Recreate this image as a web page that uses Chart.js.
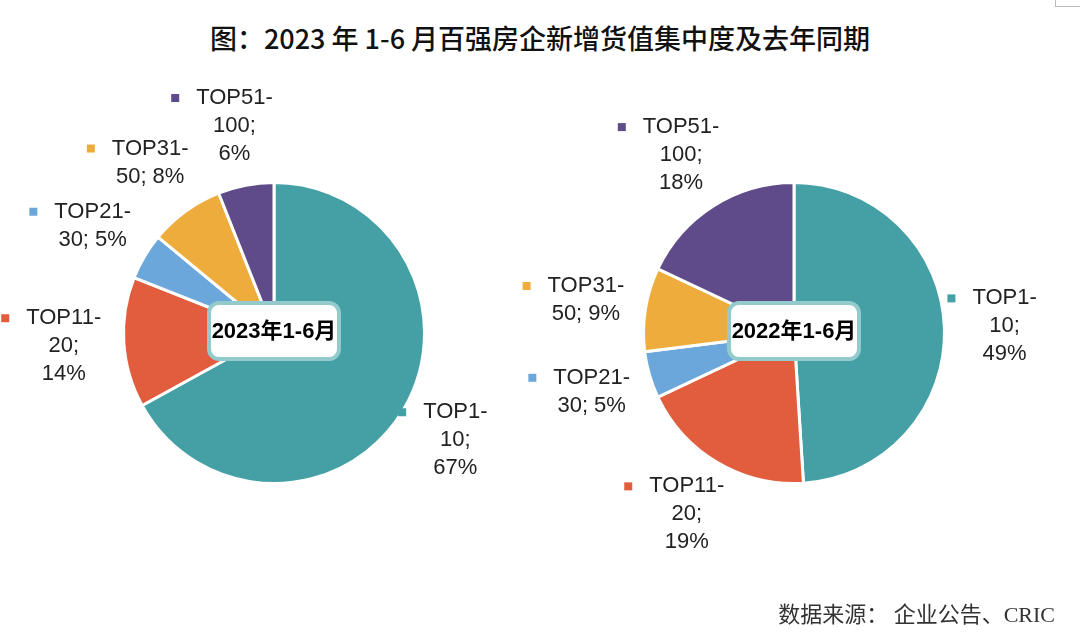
<!DOCTYPE html>
<html>
<head>
<meta charset="utf-8">
<script src="https://cdn.jsdelivr.net/npm/chart.js@4"></script>
<style>
  body { margin: 0; background: #fff; }
  #wrap { position: relative; width: 1080px; height: 644px; overflow: hidden; }
  #title { position: absolute; left: 0; top: 18px; width: 1080px; text-align: center;
    font: 500 27px "Noto Sans CJK SC", sans-serif; color: #111; }
  #source { position: absolute; right: 25px; top: 596px;
    font: 22px "Liberation Serif", "Noto Sans CJK SC", serif; color: #333; }
  .box { position: absolute; left: 0; top: 0; width: 1080px; height: 644px; }
  #corner { position: absolute; left: 1055px; top: -2px; width: 40px; height: 8px;
    border-left: 1px solid #bbb; border-bottom: 1px solid #bbb; }
</style>
</head>
<body>
<div id="wrap">
  <div id="title">图：2023 年 1-6 月百强房企新增货值集中度及去年同期</div>
  <div class="box"><canvas id="c1"></canvas></div>
  <div class="box"><canvas id="c2"></canvas></div>
  <div id="source">数据来源：&nbsp;企业公告、CRIC</div>
  <div id="corner"></div>
</div>
<script>
// groups of top-100 developers
const categories = ["TOP1-10", "TOP11-20", "TOP21-30", "TOP31-50", "TOP51-100"];
// share of new land value, %
const share2023 = [67, 14, 5, 8, 6];
const share2022 = [49, 19, 5, 9, 18];
const colors = ["#45a0a6", "#e25d3e", "#6ba7da", "#eeac3c", "#5f4b8a"];

// draws the outside labels with a little colour square, plus the period box in the middle
const labelPlugin = {
  id: "pieLabels",
  afterDraw(chart, args, opts) {
    const ctx = chart.ctx;
    const meta = chart.getDatasetMeta(0);
    const data = chart.data.datasets[0].data;
    ctx.save();
    ctx.font = "22px 'Liberation Sans', Arial, sans-serif";
    ctx.textAlign = "center";
    ctx.textBaseline = "middle";
    let cx = 0, cy = 0;
    meta.data.forEach((arc, i) => {
      cx = arc.x; cy = arc.y;
      const mid = (arc.startAngle + arc.endAngle) / 2;
      const d = arc.outerRadius * 1.4;
      const x = cx + Math.cos(mid) * d;
      const y = cy + Math.sin(mid) * d;
      // wrap "TOP1-10; 67%" like excel does
      const text = chart.data.labels[i] + "; " + data[i] + "%";
      const tokens = text.replace("-", "- ").split(" ").filter(t => t);
      const lines = [];
      let cur = "";
      tokens.forEach(t => {
        const join = cur === "" ? t : (cur.endsWith("-") ? cur + t : cur + " " + t);
        if (cur !== "" && ctx.measureText(join).width > 74) {
          lines.push(cur); cur = t;
        } else cur = join;
      });
      lines.push(cur);
      const lh = 28;
      const top = y - (lines.length - 1) * lh / 2;
      ctx.fillStyle = "#222";
      lines.forEach((ln, k) => ctx.fillText(ln, x, top + k * lh));
      const w1 = ctx.measureText(lines[0]).width;
      ctx.fillStyle = colors[i];
      ctx.fillRect(x - w1 / 2 - 25, top - 4, 8, 8);
    });
    // center box
    const bw = opts.w, bh = 56;
    const bx = cx - bw / 2, by = cy - 2 - bh / 2;
    ctx.beginPath();
    ctx.roundRect(bx, by, bw, bh, 10);
    ctx.fillStyle = "#fff";
    ctx.fill();
    ctx.lineWidth = 4;
    ctx.strokeStyle = "#93cacc";
    ctx.stroke();
    ctx.fillStyle = "#000";
    ctx.font = "bold 22px 'Liberation Sans', Arial, 'Noto Sans CJK SC', sans-serif";
    ctx.fillText(opts.text, cx, cy - 1);
    ctx.restore();
  }
};

function createPie(id, values, period, pad) {
  return new Chart(document.getElementById(id), {
    type: "pie",
    data: {
      labels: categories,
      datasets: [{
        data: values,
        backgroundColor: colors,
        borderColor: "#fff",
        borderWidth: 3
      }]
    },
    options: {
      responsive: true,
      maintainAspectRatio: false,
      animation: false,
      layout: { padding: pad },
      plugins: {
        legend: { display: false },
        tooltip: { enabled: false },
        pieLabels: { text: period, w: 130 }
      }
    },
    plugins: [labelPlugin]
  });
}

createPie("c1", share2023, "2023年1-6月", { left: 122, right: 654, top: 180, bottom: 158 });
createPie("c2", share2022, "2022年1-6月", { left: 642, right: 134, top: 180, bottom: 158 });
</script>
</body>
</html>
